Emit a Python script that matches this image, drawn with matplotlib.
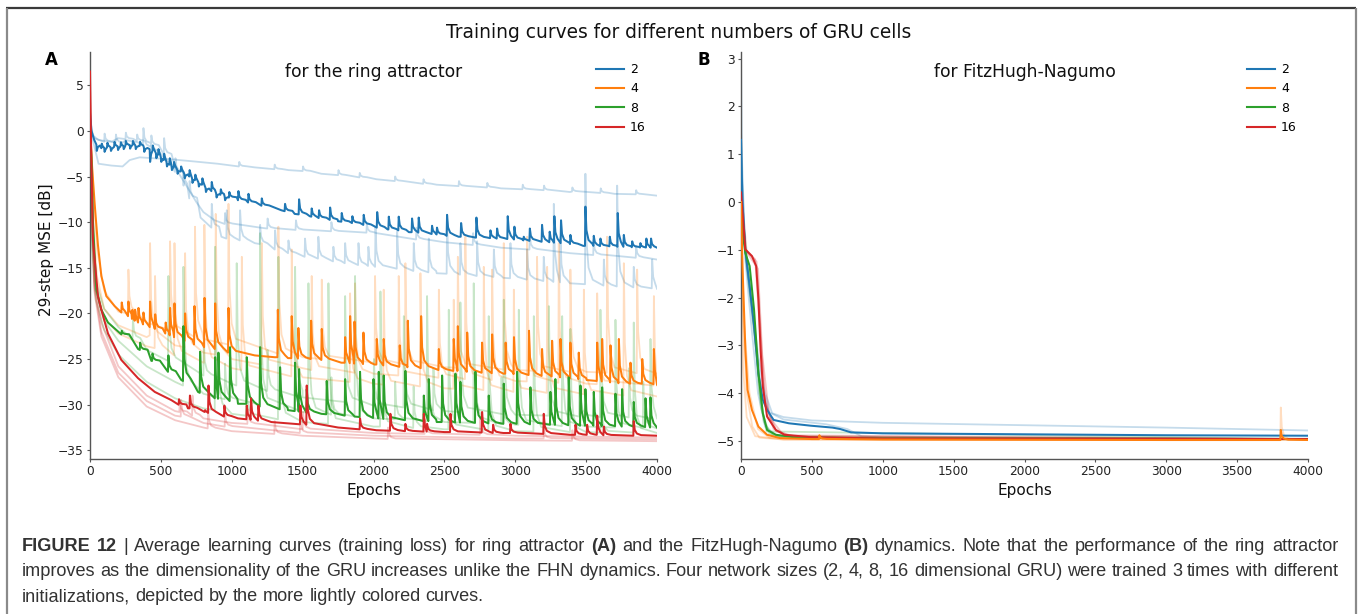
import matplotlib
matplotlib.use("Agg")
import matplotlib.pyplot as plt
from matplotlib.lines import Line2D
from matplotlib.font_manager import FontProperties

# ---------------------------------------------------------------- data
SIZES = ["2", "4", "8", "16"]
COLORS = ["#1f77b4", "#ff7f0e", "#2ca02c", "#d62728"]
EPOCH_TICKS = [0, 500, 1000, 1500, 2000, 2500, 3000, 3500, 4000]
RING_YTICKS = [-35, -30, -25, -20, -15, -10, -5, 0, 5]
FHN_YTICKS = [-5, -4, -3, -2, -1, 0, 1, 2, 3]

# Ring attractor: trend points (epoch, dB) and loss spikes (epoch, foot, peak)
ring2_trend = [(0, 2.0), (10, 0.0), (30, -1.0), (60, -1.9), (120, -1.8), (200, -1.7),
               (270, -1.55), (330, -1.6), (400, -1.9), (460, -2.4), (520, -3.2),
               (560, -3.7), (620, -4.3), (680, -4.8), (760, -5.6), (820, -6.3),
               (880, -6.8), (950, -7.2), (1045, -7.6), (1150, -8.0), (1232, -8.3),
               (1350, -8.7), (1444, -9.1), (1550, -9.35), (1632, -9.6), (1750, -9.9),
               (1867, -10.1), (1975, -10.5), (2100, -10.8), (2250, -11.1), (2446, -11.4),
               (2600, -11.6), (2750, -11.75), (2916, -11.8), (3100, -12.0), (3250, -12.2),
               (3386, -12.3), (3480, -12.6), (3600, -12.6), (3700, -12.7), (3850, -12.75),
               (3950, -12.75), (4000, -12.8)]
ring2_spikes = [(45, -1.5, -2.2), (80, -1.9, -1.4), (100, -1.85, -2.3), (120, -1.8, -1.3),
                (145, -1.8, -2.2), (170, -1.75, -1.2), (195, -1.7, -2.1), (215, -1.7, -1.25),
                (235, -1.65, -2.0), (250, -1.6, -1.1), (280, -1.55, -1.95), (300, -1.55, -1.1),
                (320, -1.6, -2.0), (350, -1.65, -1.2), (380, -1.8, -2.3), (421, -2.0, -3.4),
                (440, -2.2, -1.6), (465, -2.45, -3.0), (480, -2.6, -2.0), (500, -2.9, -3.4),
                (520, -3.2, -2.5), (540, -3.45, -3.9), (560, -3.7, -3.0), (575, -3.85, -4.3),
                (590, -4.0, -3.4), (615, -4.25, -4.7), (640, -4.45, -3.9), (665, -4.7, -5.2),
                (700, -5.0, -4.3), (720, -5.2, -5.7), (740, -5.4, -4.8), (765, -5.65, -6.1),
                (790, -5.9, -5.2), (815, -6.25, -6.7), (856, -6.6, -5.6), (890, -6.85, -7.3),
                (920, -7.0, -6.4), (950, -7.2, -7.6), (980, -7.3, -6.7),
                (1044, -7.6, -6.6), (1115, -7.85, -6.9), (1209, -8.2, -7.4), (1373, -8.8, -8.0),
                (1472, -9.15, -7.5), (1561, -9.4, -8.5), (1613, -9.55, -8.7), (1691, -9.75, -8.4),
                (1773, -9.95, -9.0), (1848, -10.1, -9.35), (1928, -10.3, -9.2), (2023, -10.6, -8.9),
                (2105, -10.8, -9.4), (2175, -10.9, -9.4), (2269, -11.1, -9.6), (2316, -11.15, -9.5),
                (2410, -11.3, -10.4), (2445, -11.35, -10.6), (2516, -11.5, -9.2), (2615, -11.6, -10.1),
                (2723, -11.7, -9.5), (2822, -11.75, -10.9), (2869, -11.8, -10.7), (2944, -11.85, -9.35),
                (2991, -11.9, -10.5), (3057, -12.0, -11.6), (3100, -12.05, -10.7), (3186, -12.15, -10.3),
                (3240, -12.2, -11.05), (3273, -12.25, -9.35), (3320, -12.3, -9.8), (3386, -12.4, -11.4),
                (3492, -12.6, -8.3), (3551, -12.6, -11.5), (3598, -12.62, -11.8), (3664, -12.65, -11.6),
                (3720, -12.7, -9.0), (3763, -12.7, -11.4), (3822, -12.75, -12.1), (3880, -12.78, -12.3),
                (3922, -12.78, -11.8), (3955, -12.8, -11.8)]

ring4_trend = [(0, 0.5), (15, -4.0), (33, -8.0), (56, -12.5), (80, -15.9), (115, -18.1),
               (174, -19.2), (221, -19.9), (339, -21.0), (457, -21.7), (574, -22.5),
               (691, -23.2), (809, -23.7), (974, -24.3), (1162, -24.6), (1303, -24.8),
               (1397, -24.9), (1632, -25.1), (1773, -25.4), (2008, -25.6), (2211, -25.9),
               (2563, -26.3), (2916, -26.6), (3269, -26.9), (3504, -27.3), (3739, -27.7),
               (3900, -27.7), (4000, -27.8)]
ring4_spikes = [(221, -19.9, -18.8), (268, -20.3, -18.7), (296, -20.6, -19.6), (315, -20.8, -19.6),
                (339, -21.0, -19.4), (374, -21.2, -19.9), (421, -21.5, -18.7), (457, -21.7, -20.1),
                (531, -22.2, -21.0), (562, -22.4, -19.4), (593, -22.6, -18.9), (668, -23.0, -20.0),
                (734, -23.4, -19.2), (805, -23.7, -18.3), (880, -23.9, -18.9), (974, -24.3, -19.4),
                (1322, -24.8, -19.6), (1420, -24.9, -20.3), (1467, -24.95, -21.6), (1557, -25.0, -20.8),
                (1632, -25.1, -21.7), (1797, -25.4, -22.6), (1832, -25.45, -20.3), (1863, -25.5, -20.9),
                (1926, -25.55, -22.1), (2020, -25.6, -22.8), (2069, -25.7, -22.8), (2182, -25.85, -23.5),
                (2239, -25.9, -20.8), (2333, -26.0, -20.3), (2458, -26.2, -23.9), (2563, -26.3, -22.8),
                (2592, -26.3, -21.4), (2658, -26.4, -22.1), (2763, -26.5, -23.2), (2834, -26.55, -22.3),
                (2929, -26.6, -23.2), (2988, -26.65, -22.6), (3094, -26.75, -21.9), (3186, -26.85, -23.9),
                (3257, -26.9, -23.0), (3316, -27.0, -22.8), (3386, -27.1, -23.2), (3445, -27.2, -24.3),
                (3575, -27.4, -23.2), (3610, -27.45, -22.8), (3669, -27.55, -23.5), (3728, -27.65, -22.8),
                (3810, -27.7, -25.4), (3893, -27.7, -25.0), (3975, -27.75, -23.9)]

ring8_trend = [(0, 0.5), (10, -3.0), (21, -10.0), (45, -17.4), (80, -19.6), (127, -21.0),
               (221, -22.3), (339, -23.9), (433, -25.2), (550, -26.4), (644, -27.3),
               (762, -28.6), (880, -29.3), (1044, -29.9), (1209, -30.2), (1397, -30.6),
               (1632, -31.0), (1867, -31.3), (2020, -31.5), (2446, -31.9), (2916, -32.1),
               (3386, -32.2), (3857, -32.4), (4000, -32.5)]
ring8_spikes = [(221, -22.3, -21.9), (351, -24.0, -23.2), (438, -25.2, -24.4), (550, -26.4, -24.6),
                (656, -27.4, -21.4), (774, -28.7, -24.2), (880, -29.3, -24.8), (903, -29.35, -24.3),
                (985, -29.6, -23.7), (1103, -29.9, -24.8), (1197, -30.2, -23.7), (1338, -30.5, -25.9),
                (1444, -30.7, -25.4), (1472, -30.75, -26.1), (1526, -30.85, -28.3), (1667, -31.05, -27.4),
                (1797, -31.2, -27.2), (1902, -31.35, -26.4), (1997, -31.45, -27.2), (2034, -31.5, -26.4),
                (2069, -31.55, -26.8), (2222, -31.7, -26.3), (2352, -31.8, -29.0), (2387, -31.8, -27.2),
                (2481, -31.9, -26.8), (2575, -31.95, -26.6), (2610, -31.95, -27.5), (2716, -32.0, -26.4),
                (2810, -32.05, -29.0), (2916, -32.1, -27.7), (3010, -32.1, -26.4), (3104, -32.15, -28.1),
                (3245, -32.2, -28.6), (3280, -32.2, -27.2), (3374, -32.25, -27.0), (3457, -32.3, -27.9),
                (3492, -32.3, -28.3), (3551, -32.3, -28.6), (3610, -32.35, -28.1), (3704, -32.35, -28.8),
                (3751, -32.4, -28.3), (3833, -32.4, -29.7), (3916, -32.45, -29.3), (3951, -32.5, -29.2)]

ring16_trend = [(0, 6.5), (8, -2.0), (21, -12.0), (56, -18.1), (80, -19.6), (127, -22.2),
                (221, -25.1), (339, -27.1), (457, -28.6), (574, -29.5), (691, -30.4),
                (880, -31.2), (1044, -31.5), (1279, -31.9), (1514, -32.2), (1750, -32.5),
                (2020, -32.8), (2500, -33.0), (2916, -33.1), (3386, -33.3), (4000, -33.4)]
ring16_spikes = [(625, -30.0, -29.4), (702, -30.4, -29.0), (809, -30.8, -30.6), (833, -30.9, -27.9),
                 (945, -31.3, -30.1), (1103, -31.6, -30.1), (1133, -31.65, -29.3), (1185, -31.75, -30.1),
                 (1481, -32.15, -30.1), (1526, -32.2, -27.9), (1902, -32.7, -31.5), (2116, -32.85, -31.0),
                 (2222, -32.9, -32.1), (2352, -32.95, -31.0), (2375, -32.95, -32.1), (2540, -33.0, -31.0),
                 (2763, -33.05, -30.8), (2841, -33.1, -32.2), (2963, -33.1, -32.1), (3198, -33.2, -31.0),
                 (3422, -33.3, -32.2), (3504, -33.3, -32.2), (3575, -33.3, -31.2), (3622, -33.35, -32.4),
                 (3833, -33.4, -31.8)]

# Ring attractor: the three individual training runs per size
ring2_run1 = [(0, 1.0), (20, -1.0), (60, -3.6), (150, -3.8), (230, -3.9), (280, -3.2),
              (350, -2.9), (450, -3.0), (560, -3.1), (700, -3.3), (900, -3.6), (1162, -4.0),
              (1400, -4.3), (1632, -4.7), (2020, -5.3), (2446, -5.9), (2900, -6.3),
              (3386, -6.7), (3700, -6.9), (4000, -7.1)]
ring2_run1_spikes = [(1050, -3.9, -3.4), (1300, -4.2, -3.7), (1500, -4.4, -3.9), (1750, -4.85, -4.3),
                     (1900, -5.1, -4.6), (2150, -5.5, -5.0), (2350, -5.8, -5.3), (2600, -6.05, -5.5),
                     (2800, -6.2, -5.7), (3050, -6.4, -5.9), (3200, -6.5, -6.0), (3400, -6.65, -6.2),
                     (3600, -6.8, -6.3), (3850, -6.95, -6.5)]
ring2_run2 = [(0, 1.5), (20, -0.5), (60, -1.0), (150, -1.2), (250, -1.0), (350, -1.3),
              (450, -1.8), (520, -2.6), (600, -4.0), (680, -6.0), (750, -7.8), (800, -8.9),
              (880, -9.8), (1000, -10.3), (1200, -10.6), (1500, -10.9), (2020, -11.2),
              (2500, -12.2), (2900, -12.8), (3386, -13.4), (4000, -14.1)]
ring2_run2_spikes = [(180, -1.3, -0.4), (374, -1.4, 0.3), (430, -1.6, -0.5), (520, -2.6, -0.8),
                     (950, -10.2, -9.0), (1250, -10.7, -9.6), (1450, -10.85, -9.8), (1700, -11.0, -10.0),
                     (1950, -11.15, -10.2), (2300, -11.9, -10.6), (2700, -12.5, -11.2),
                     (3100, -13.0, -11.5), (3550, -13.6, -12.0), (3850, -13.9, -12.6)]
ring2_run3 = [(0, 0.5), (30, -0.8), (100, -1.2), (200, -0.8), (300, -1.0), (400, -1.5),
              (480, -2.2), (560, -3.5), (640, -5.5), (720, -8.0), (780, -9.5), (880, -10.9),
              (927, -11.6), (1162, -12.3), (1397, -13.4), (1632, -14.1), (2020, -14.9),
              (2446, -15.6), (2916, -16.1), (3386, -16.7), (4000, -17.3)]
ring2_run3_spikes = [(100, -1.2, -0.3), (250, -0.9, -0.2), (330, -1.1, -0.4), (600, -4.5, -3.0),
                     (660, -6.0, -4.5), (700, -7.4, -5.5), (856, -10.6, -8.0), (962, -11.8, -8.7),
                     (1056, -12.0, -8.7), (1197, -12.4, -10.3), (1303, -13.0, -10.9), (1397, -13.4, -12.0),
                     (1514, -13.8, -11.8), (1608, -14.0, -11.6), (1714, -14.3, -12.7), (1797, -14.5, -12.3),
                     (1891, -14.7, -12.3), (1961, -14.8, -12.7), (2011, -14.9, -10.5), (2164, -15.1, -11.05),
                     (2281, -15.35, -12.3), (2387, -15.5, -11.8), (2516, -15.65, -9.8), (2610, -15.75, -12.3),
                     (2728, -15.9, -12.1), (2846, -16.0, -13.0), (2963, -16.15, -12.3), (3081, -16.3, -13.0),
                     (3198, -16.45, -13.8), (3269, -16.55, -8.0), (3316, -16.6, -11.6), (3492, -16.8, -4.7),
                     (3622, -16.95, -14.1), (3716, -17.05, -6.0), (3833, -17.15, -14.9), (3963, -17.25, -14.1)]

ring4_run1 = [(0, 1.0), (20, -6.0), (50, -13.0), (100, -17.5), (200, -19.8), (400, -21.0),
              (600, -22.0), (800, -22.8), (1000, -23.5), (1500, -24.8), (2000, -25.4),
              (2500, -25.9), (3000, -26.2), (3500, -26.4), (4000, -26.6)]
ring4_run1_spikes = [(268, -20.0, -15.2), (562, -21.8, -12.1), (738, -22.6, -10.5), (974, -23.4, -8.0),
                     (1326, -24.4, -10.5), (1632, -25.0, -16.3), (2008, -25.4, -15.9), (2222, -25.6, -14.5),
                     (2592, -25.95, -13.8), (2916, -26.15, -12.3), (3151, -26.3, -13.8), (3386, -26.4, -15.2),
                     (3645, -26.5, -11.6), (3857, -26.55, -15.2)]
ring4_run2 = [(0, -1.0), (20, -10.0), (50, -16.0), (100, -19.5), (200, -21.3), (400, -22.6),
              (600, -23.5), (800, -24.3), (1000, -25.0), (1500, -26.0), (2000, -26.6),
              (2500, -27.1), (3000, -27.4), (3500, -27.7), (4000, -27.9)]
ring4_run2_spikes = [(421, -22.4, -12.3), (668, -23.7, -13.4), (884, -24.5, -9.1), (1209, -25.6, -12.3),
                     (1561, -26.2, -15.9), (1867, -26.5, -16.7), (2175, -26.8, -15.9), (2458, -27.05, -17.4),
                     (2645, -27.2, -11.6), (2834, -27.3, -15.2), (3081, -27.45, -11.6), (3304, -27.6, -12.3),
                     (3575, -27.75, -17.8), (3975, -27.9, -18.1)]
ring4_run3 = [(0, -2.0), (20, -12.0), (50, -17.5), (100, -20.5), (200, -22.2), (400, -23.6),
              (600, -24.6), (800, -25.4), (1000, -26.0), (1500, -27.0), (2000, -27.7),
              (2500, -28.2), (3000, -28.6), (3500, -28.9), (4000, -29.1)]
ring4_run3_spikes = [(456, -23.8, -15.9), (593, -24.6, -12.3), (804, -25.4, -10.3), (1068, -26.2, -13.8),
                     (1420, -26.9, -13.0), (1832, -27.5, -17.8), (2069, -27.8, -17.4), (2328, -28.0, -15.6),
                     (2563, -28.25, -18.5), (2775, -28.4, -14.9), (2987, -28.6, -17.4), (3222, -28.7, -14.9),
                     (3481, -28.85, -17.4), (3763, -29.0, -14.5)]

ring8_run1 = [(0, 0.0), (15, -10.0), (40, -16.5), (100, -19.5), (200, -21.5), (400, -24.0),
              (600, -25.6), (800, -26.8), (1000, -27.7), (1500, -29.2), (2000, -30.1),
              (2500, -30.7), (3000, -31.1), (3500, -31.3), (4000, -31.5)]
ring8_run1_spikes = [(300, -22.8, -20.5), (550, -25.2, -15.9), (800, -26.8, -23.0), (1032, -27.9, -14.5),
                     (1250, -28.5, -24.0), (1444, -29.0, -14.9), (1797, -29.7, -18.1), (2000, -30.1, -25.0),
                     (2211, -30.3, -20.3), (2420, -30.6, -26.0), (2610, -30.8, -18.8), (2916, -31.05, -18.5),
                     (3234, -31.2, -19.2), (3450, -31.3, -26.5), (3598, -31.35, -19.6), (3800, -31.4, -26.0),
                     (3951, -31.5, -22.8)]
ring8_run2 = [(0, 1.0), (15, -12.0), (40, -17.5), (100, -20.8), (200, -23.0), (400, -25.8),
              (600, -27.5), (800, -28.8), (1000, -29.6), (1500, -30.8), (2000, -31.5),
              (2500, -31.9), (3000, -32.2), (3500, -32.4), (4000, -32.6)]
ring8_run2_spikes = [(656, -27.9, -14.9), (950, -29.4, -25.5), (1197, -30.0, -11.2), (1538, -30.9, -16.7),
                     (1700, -31.1, -27.0), (1867, -31.3, -15.9), (2150, -31.6, -27.5), (2375, -31.8, -18.1),
                     (2704, -32.0, -16.7), (2900, -32.15, -27.0), (3022, -32.2, -19.6), (3328, -32.35, -20.3),
                     (3704, -32.5, -20.7), (3900, -32.55, -27.5)]
ring8_run3 = [(0, 2.0), (15, -13.0), (40, -18.5), (100, -21.8), (200, -24.5), (400, -27.5),
              (600, -29.3), (800, -30.4), (1000, -31.0), (1500, -31.9), (2000, -32.4),
              (2500, -32.7), (3000, -32.9), (3500, -33.0), (4000, -33.1)]
ring8_run3_spikes = [(880, -30.6, -12.7), (1100, -31.2, -27.0), (1326, -31.6, -13.8), (1679, -32.1, -16.7),
                     (2046, -32.4, -17.6), (2280, -32.55, -28.0), (2528, -32.7, -19.6), (2810, -32.8, -20.3),
                     (3128, -32.95, -20.3), (3386, -33.0, -21.7), (3600, -33.05, -28.5), (3833, -33.05, -21.0)]

ring16_run1 = [(0, 5.5), (10, -5.0), (30, -16.5), (80, -21.0), (200, -25.8), (400, -29.0),
               (600, -30.7), (800, -31.5), (1000, -32.0), (1500, -32.7), (2000, -33.1),
               (3000, -33.4), (4000, -33.6)]
ring16_run1_spikes = [(630, -30.8, -29.7), (720, -31.2, -29.0), (1110, -32.1, -30.5), (1500, -32.7, -30.8),
                      (2360, -33.2, -31.6), (2750, -33.3, -31.5)]
ring16_run2 = [(0, 3.0), (10, -8.0), (30, -17.5), (80, -22.5), (200, -27.0), (400, -30.2),
               (600, -31.7), (800, -32.5), (1000, -32.9), (1500, -33.4), (2000, -33.7),
               (3000, -33.9), (4000, -34.0)]
ring16_run2_spikes = [(830, -32.6, -30.5), (1300, -33.2, -31.8), (2100, -33.75, -32.5), (3400, -33.95, -32.8)]
ring16_run3 = [(0, 4.0), (10, -7.0), (30, -17.0), (80, -22.0), (200, -26.5), (400, -29.6),
               (600, -31.2), (800, -32.0), (1000, -32.5), (1500, -33.1), (2000, -33.4),
               (3000, -33.7), (4000, -33.8)]
ring16_run3_spikes = [(640, -31.3, -29.5), (950, -32.4, -31.0), (1480, -33.1, -31.5), (3200, -33.7, -32.6)]

# FitzHugh-Nagumo: mean curves
fhn2_trend = [(0, 1.3), (10, 0.0), (30, -1.0), (61, -1.76), (92, -2.6), (123, -3.6), (154, -4.14),
              (184, -4.35), (230, -4.56), (338, -4.63), (491, -4.68), (645, -4.72), (700, -4.75),
              (776, -4.82), (1000, -4.84), (2000, -4.86), (3000, -4.88), (4000, -4.89)]
fhn4_trend = [(0, 0.0), (10, -1.3), (31, -3.1), (46, -3.93), (77, -4.35), (123, -4.7), (184, -4.87),
              (276, -4.94), (500, -4.96), (1000, -4.97), (3000, -4.98), (4000, -4.98)]
fhn4_spikes = [(550, -4.96, -4.88), (3805, -4.98, -4.77)]
fhn8_trend = [(0, 0.0), (10, -0.6), (30, -1.06), (61, -1.34), (92, -2.25), (123, -3.58), (154, -4.42),
              (184, -4.77), (246, -4.87), (368, -4.92), (1000, -4.95), (4000, -4.96)]
fhn16_trend = [(0, 0.2), (30, -0.99), (77, -1.13), (107, -1.34), (123, -2.04), (138, -3.09),
               (154, -3.86), (184, -4.49), (246, -4.77), (307, -4.87), (491, -4.92), (1000, -4.95),
               (4000, -4.96)]

# FitzHugh-Nagumo: individual runs
fhn2_run1 = [(0, 3.1), (8, 0.5), (30, -1.0), (70, -2.0), (120, -3.2), (170, -4.0), (220, -4.42),
             (300, -4.5), (500, -4.57), (1000, -4.62), (2000, -4.67), (3000, -4.72), (4000, -4.78)]
fhn2_run2 = [(0, 1.5), (30, -1.1), (80, -2.4), (140, -3.8), (200, -4.4), (300, -4.55), (600, -4.65),
             (750, -4.75), (850, -4.9), (1000, -4.93), (4000, -4.95)]
fhn2_run3 = [(0, 1.0), (30, -1.2), (70, -2.5), (120, -4.0), (170, -4.7), (250, -4.88), (500, -4.93),
             (4000, -4.96)]
fhn4_run1 = [(0, -0.5), (15, -2.5), (40, -4.0), (80, -4.7), (130, -4.93), (300, -4.97), (4000, -4.98)]
fhn4_run1_spikes = [(3805, -4.98, -4.3)]
fhn4_run2 = [(0, 0.0), (20, -2.5), (60, -4.0), (120, -4.75), (200, -4.93), (4000, -4.97)]
fhn4_run3 = [(0, -1.0), (15, -3.5), (40, -4.5), (100, -4.9), (300, -4.97), (4000, -4.98)]
fhn8_run1 = [(0, 0.2), (40, -1.2), (100, -2.8), (140, -4.3), (200, -4.85), (300, -4.93), (4000, -4.96)]
fhn8_run2 = [(0, 0.0), (40, -1.1), (90, -2.5), (130, -4.0), (180, -4.8), (4000, -4.96)]
fhn8_run3 = [(0, 0.1), (40, -1.3), (110, -3.2), (160, -4.6), (230, -4.9), (4000, -4.96)]
fhn16_run1 = [(0, 0.2), (30, -1.0), (110, -1.25), (140, -2.8), (170, -4.2), (250, -4.8), (400, -4.92),
              (4000, -4.96)]
fhn16_run2 = [(0, 0.3), (40, -1.05), (120, -1.4), (150, -3.2), (200, -4.5), (300, -4.88), (4000, -4.96)]
fhn16_run3 = [(0, 0.1), (30, -1.0), (100, -1.2), (130, -2.5), (165, -4.1), (230, -4.75), (350, -4.9),
              (4000, -4.96)]

# caption lines as (text, bold) segments
CAPTION_LINES = [
    [("FIGURE 12", True), ("| Average learning curves (training loss) for ring attractor", False),
     ("(A)", True), ("and the FitzHugh-Nagumo", False), ("(B)", True),
     ("dynamics. Note that the performance of the ring attractor", False)],
    [("improves as the dimensionality of the GRU increases unlike the FHN dynamics. Four network "
      "sizes (2, 4, 8, 16 dimensional GRU) were trained 3 times with different", False)],
    [("initializations, depicted by the more lightly colored curves.", False)],
]

# ---------------------------------------------------------------- drawing helpers
RISE = 3
TAIL = [(10, 0.40), (25, 0.15), (55, 0.04)]


def trace(trend, spikes=()):
    """Merge trend vertices with spike glyphs (sharp rise, fast decay)."""
    events = [(e, None, v) for e, v in trend] + [(e, f, p) for e, f, p in spikes]
    events.sort(key=lambda t: t[0])
    kept, last = [], -1e9
    for i, ev in enumerate(events):
        if ev[1] is None and 0 < ev[0] - last < TAIL[-1][0] and i != len(events) - 1:
            continue
        if ev[1] is not None:
            last = ev[0]
        kept.append(ev)
    xs, ys = [], []
    for i, (e, foot, val) in enumerate(kept):
        nxt = kept[i + 1][0] if i + 1 < len(kept) else 1e9
        if foot is None:
            xs.append(e)
            ys.append(val)
            continue
        xs += [e, e + RISE]
        ys += [foot, val]
        for dx, frac in TAIL:
            if e + dx < nxt:
                xs.append(e + dx)
                ys.append(foot + frac * (val - foot))
    return xs, ys


W, H = 1362, 614
fig = plt.figure(figsize=(W / 100, H / 100), dpi=100)


def fx(px):
    return px / W


def fy(py):
    return 1 - py / H


def style_axes(ax, yticks, ylim):
    ax.set_xlim(0, 4000)
    ax.set_ylim(*ylim)
    ax.set_xticks(EPOCH_TICKS)
    ax.set_yticks(yticks)
    ax.set_yticklabels([str(t).replace("-", "\u2212") for t in yticks])
    for s in ("top", "right"):
        ax.spines[s].set_visible(False)
    for s in ("left", "bottom"):
        ax.spines[s].set_color("#555555")
        ax.spines[s].set_linewidth(1.0)
    ax.tick_params(length=2.5, width=0.8, pad=2, labelsize=8.8, colors="#555555",
                   labelcolor="#222222")
    ax.set_facecolor("white")


axA = fig.add_axes([fx(90), fy(459), fx(657) - fx(90), fy(52) - fy(459)])
axB = fig.add_axes([fx(741), fy(459), fx(1308) - fx(741), fy(52) - fy(459)])
style_axes(axA, RING_YTICKS, (-35.95, 8.64))
style_axes(axB, FHN_YTICKS, (-5.377, 3.138))

LIGHT_ALPHA = 0.26
LIGHT_LW = 1.3
MAIN_LW = 1.45

ring_runs = [
    [(ring2_run1, ring2_run1_spikes), (ring2_run2, ring2_run2_spikes), (ring2_run3, ring2_run3_spikes)],
    [(ring4_run1, ring4_run1_spikes), (ring4_run2, ring4_run2_spikes), (ring4_run3, ring4_run3_spikes)],
    [(ring8_run1, ring8_run1_spikes), (ring8_run2, ring8_run2_spikes), (ring8_run3, ring8_run3_spikes)],
    [(ring16_run1, ring16_run1_spikes), (ring16_run2, ring16_run2_spikes), (ring16_run3, ring16_run3_spikes)],
]
ring_means = [(ring2_trend, ring2_spikes), (ring4_trend, ring4_spikes),
              (ring8_trend, ring8_spikes), (ring16_trend, ring16_spikes)]

for color, runs in zip(COLORS, ring_runs):
    for trend, spikes in runs:
        xs, ys = trace(trend, spikes)
        axA.plot(xs, ys, color=color, alpha=LIGHT_ALPHA, lw=LIGHT_LW, zorder=2)
for k, (color, (trend, spikes)) in enumerate(zip(COLORS, ring_means)):
    xs, ys = trace(trend, spikes)
    axA.plot(xs, ys, color=color, lw=MAIN_LW, zorder=3 + k)

fhn_runs = [
    [(fhn2_run1, ()), (fhn2_run2, ()), (fhn2_run3, ())],
    [(fhn4_run1, fhn4_run1_spikes), (fhn4_run2, ()), (fhn4_run3, ())],
    [(fhn8_run1, ()), (fhn8_run2, ()), (fhn8_run3, ())],
    [(fhn16_run1, ()), (fhn16_run2, ()), (fhn16_run3, ())],
]
fhn_means = [(fhn2_trend, ()), (fhn4_trend, fhn4_spikes), (fhn8_trend, ()), (fhn16_trend, ())]

for color, runs in zip(COLORS, fhn_runs):
    for trend, spikes in runs:
        xs, ys = trace(trend, spikes)
        axB.plot(xs, ys, color=color, alpha=LIGHT_ALPHA, lw=LIGHT_LW, zorder=2)
fhn_order = [0, 2, 3, 1]
for k in fhn_order:
    trend, spikes = fhn_means[k]
    xs, ys = trace(trend, spikes)
    axB.plot(xs, ys, color=COLORS[k], lw=MAIN_LW, zorder=3 + fhn_order.index(k))

# legends
handles = [Line2D([], [], color=c, lw=1.5) for c in COLORS]
for ax in (axA, axB):
    ax.legend(handles, SIZES, loc="upper right", frameon=False, fontsize=9,
              handlelength=2.2, handletextpad=0.5, labelspacing=0.5)

# in-axes subtitles
axA.text(0.5, (459 - 72) / 407, "for the ring attractor", transform=axA.transAxes,
         ha="center", va="center", fontsize=12.3, color="#111111")
axB.text(0.5, (459 - 72) / 407, "for FitzHugh-Nagumo", transform=axB.transAxes,
         ha="center", va="center", fontsize=12.3, color="#111111")

# figure texts
fig.text(fx(679), fy(33), "Training curves for different numbers of GRU cells",
         ha="center", va="center", fontsize=13.4, color="#111111")
fig.text(fx(51), fy(60), "A", ha="center", va="center", fontsize=12, fontweight="bold")
fig.text(fx(704), fy(60), "B", ha="center", va="center", fontsize=12, fontweight="bold")
fig.text(fx(47), fy(250), "29-step MSE [dB]", rotation=90, ha="center", va="center",
         fontsize=11, color="#111111")
fig.text(fx(373.5), fy(490), "Epochs", ha="center", va="center", fontsize=11, color="#111111")
fig.text(fx(1024.5), fy(490), "Epochs", ha="center", va="center", fontsize=11, color="#111111")

# outer frame (top, left, right)
frame_kw = dict(transform=fig.transFigure, lw=1.6, solid_capstyle="butt")
fig.add_artist(Line2D([fx(6), fx(1356)], [fy(8), fy(8)], color="#3a3a3a", **frame_kw))
fig.add_artist(Line2D([fx(6.5), fx(6.5)], [fy(8), 0], color="#8a8a8a", **frame_kw))
fig.add_artist(Line2D([fx(1356), fx(1356)], [fy(8), 0], color="#8a8a8a", **frame_kw))

# caption: justified paragraph (last line ragged), word by word
CAP_FAMILY = "Liberation Sans"
CAP_COLOR = "#333333"
CAP_LEFT, CAP_RIGHT = 22, 1338
baselines = [551, 576, 601]
renderer = fig.canvas.get_renderer()


def text_width(s, bold, size):
    fp = FontProperties(family=CAP_FAMILY, weight="bold" if bold else "normal", size=size)
    return renderer.get_text_width_height_descent(s, fp, ismath=False)[0]


def words_of(line):
    return [(w, bold) for seg, bold in line for w in seg.split(" ")]


ref_size = 12.0
space_ref = text_width("a a", False, ref_size) - text_width("aa", False, ref_size)
natural = []
for line in CAPTION_LINES:
    ws = words_of(line)
    natural.append(sum(text_width(w, b, ref_size) for w, b in ws) + space_ref * (len(ws) - 1))
cap_size = ref_size * (CAP_RIGHT - CAP_LEFT) / max(natural)
space = space_ref * cap_size / ref_size

for li, (line, base) in enumerate(zip(CAPTION_LINES, baselines)):
    ws = words_of(line)
    widths = [text_width(w, b, cap_size) for w, b in ws]
    last_line = li == len(CAPTION_LINES) - 1
    gap = space if last_line else (CAP_RIGHT - CAP_LEFT - sum(widths)) / (len(ws) - 1)
    x = CAP_LEFT
    for (w, b), wd in zip(ws, widths):
        fig.text(fx(x), fy(base), w, ha="left", va="baseline", fontsize=cap_size,
                 family=CAP_FAMILY, fontweight="bold" if b else "normal", color=CAP_COLOR)
        x += wd + gap

fig.savefig("out.png", dpi=100, facecolor="white")
